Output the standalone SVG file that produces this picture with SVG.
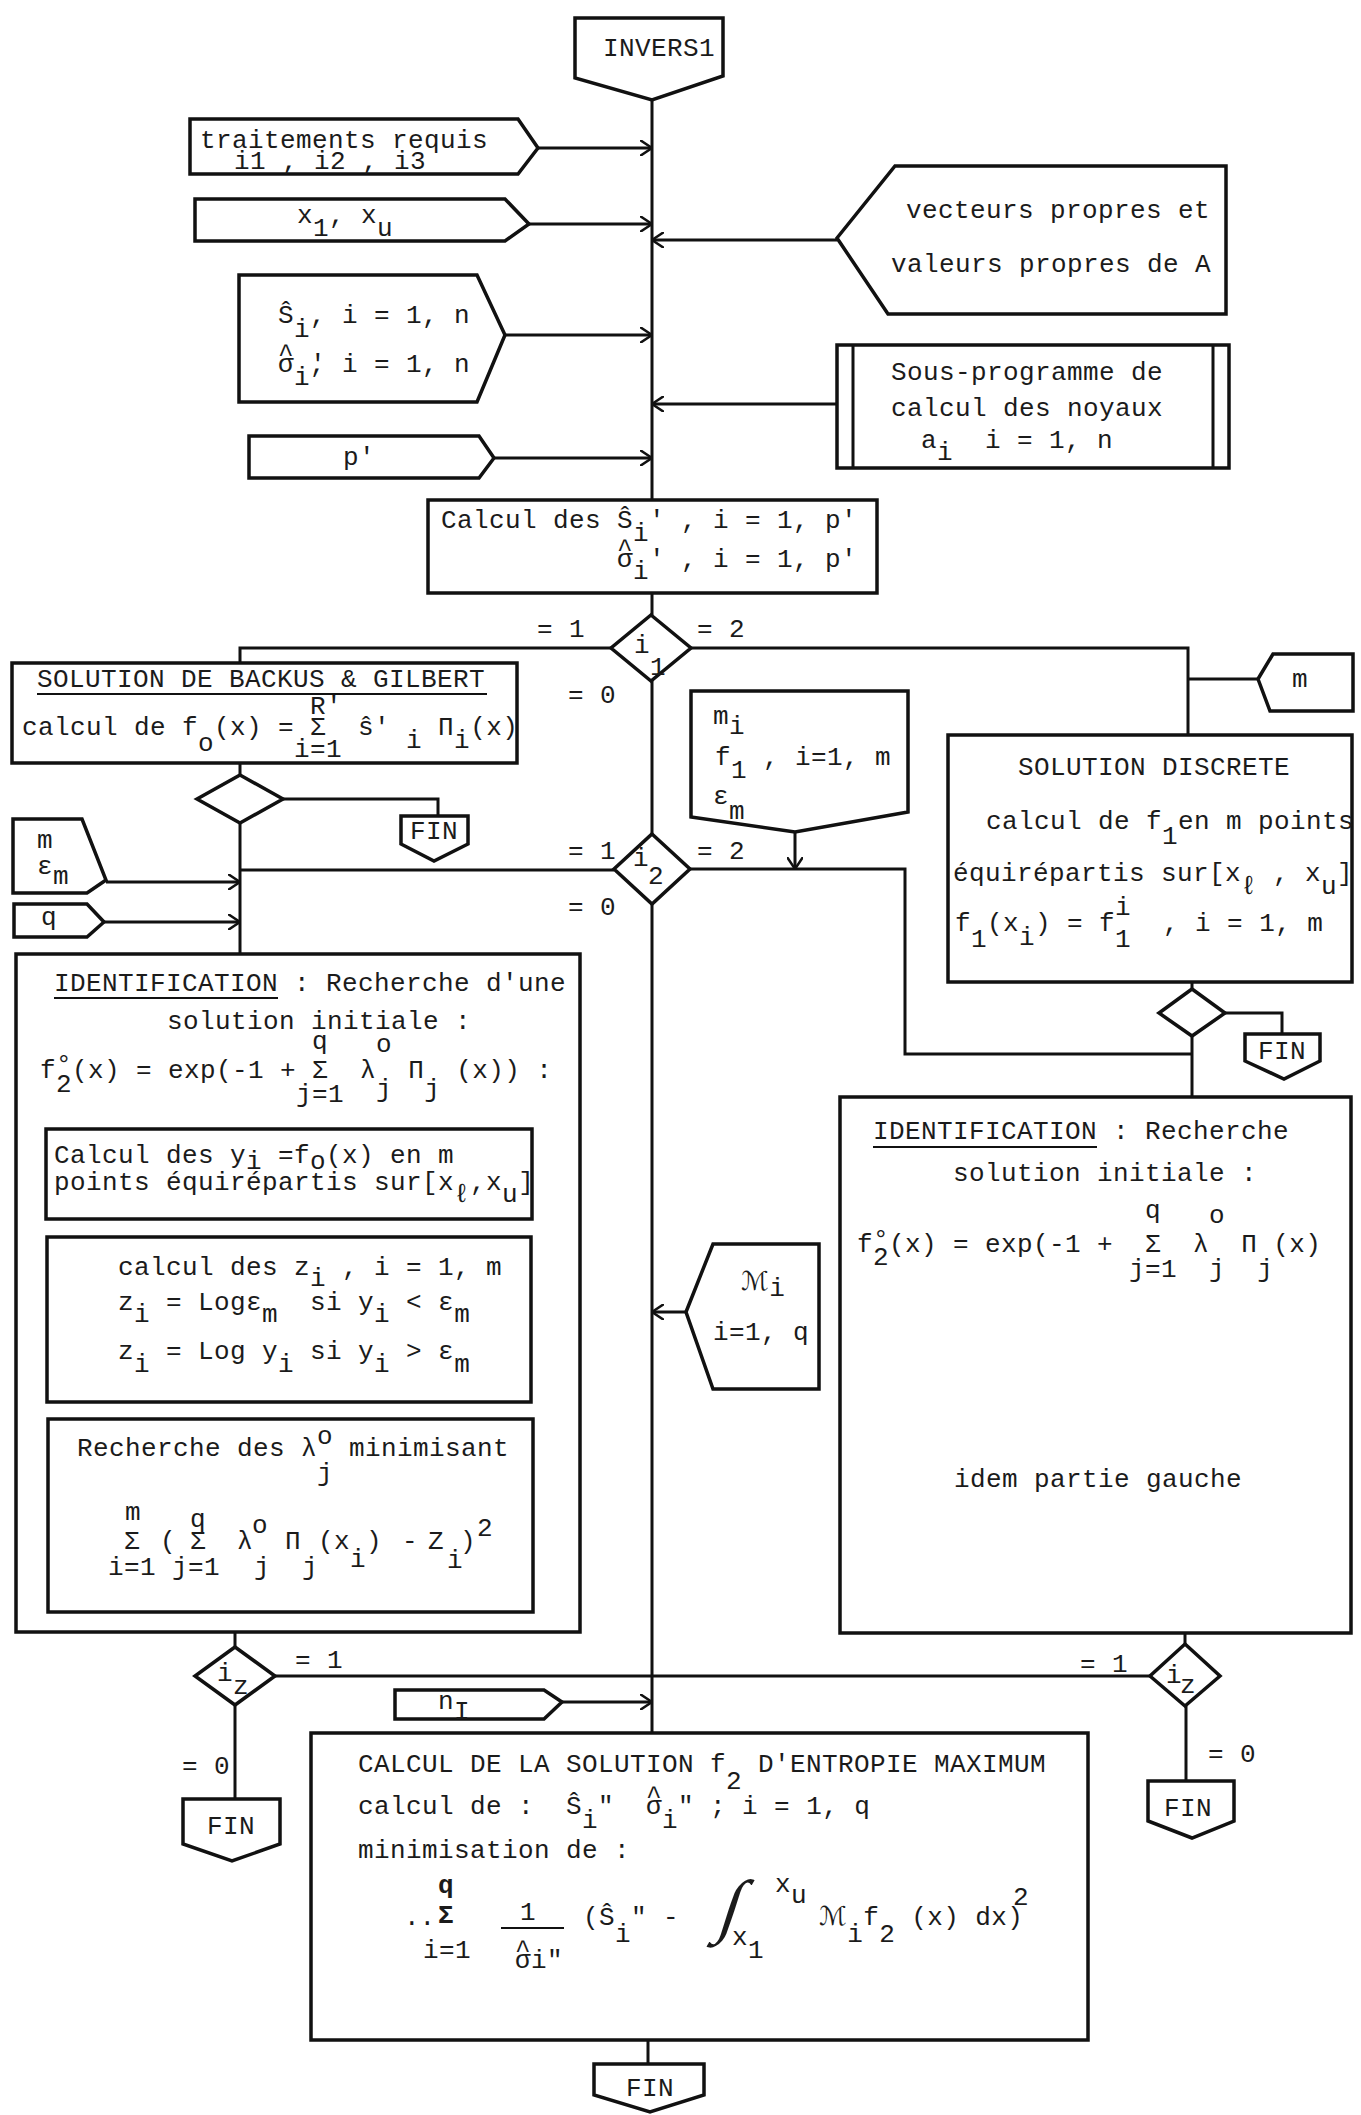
<svg xmlns="http://www.w3.org/2000/svg" width="1361" height="2115" viewBox="0 0 1361 2115" xml:space="preserve">
<style>
.b{fill:#fff;stroke:#111;stroke-width:3.5;stroke-linejoin:miter}
.c{fill:none;stroke:#111;stroke-width:3}
.u{fill:none;stroke:#111;stroke-width:2}
.t{font-family:"Liberation Mono","DejaVu Sans Mono","DejaVu Sans",monospace;font-size:26px;letter-spacing:0.4px;fill:#1b1b1b;white-space:pre}
.bd{font-weight:bold}
</style>
<defs>
<marker id="arr" viewBox="0 0 12 16" refX="12" refY="8" markerWidth="12" markerHeight="16" markerUnits="userSpaceOnUse" orient="auto">
<path d="M0,0 L12,8 L0,16" fill="none" stroke="#111" stroke-width="2.5"/>
</marker>
</defs>
<rect width="1361" height="2115" fill="#fff"/>

<g id="connectors">
<path class="c" d="M652,100 V500"/>
<path class="c" d="M652,593 V615"/>
<path class="c" d="M652,681 V834"/>
<path class="c" d="M652,904 V1733"/>
<path class="c" d="M538,148 H652" marker-end="url(#arr)"/>
<path class="c" d="M529,224 H652" marker-end="url(#arr)"/>
<path class="c" d="M505,335 H652" marker-end="url(#arr)"/>
<path class="c" d="M494,458 H652" marker-end="url(#arr)"/>
<path class="c" d="M837,240 H652" marker-end="url(#arr)"/>
<path class="c" d="M837,404 H652" marker-end="url(#arr)"/>
<path class="c" d="M611,648 H240 V663"/>
<path class="c" d="M691,648 H1188 V735"/>
<path class="c" d="M1258,679 H1188"/>
<path class="c" d="M240,763 V775"/>
<path class="c" d="M283,799 H438 V816"/>
<path class="c" d="M240,823 V954"/>
<path class="c" d="M614,870 H240"/>
<path class="c" d="M690,869 H905 V1054 H1192"/>
<path class="c" d="M795,832 V869" marker-end="url(#arr)"/>
<path class="c" d="M106,882 H240" marker-end="url(#arr)"/>
<path class="c" d="M104,922 H240" marker-end="url(#arr)"/>
<path class="c" d="M1192,982 V988"/>
<path class="c" d="M1225,1013 H1282 V1034"/>
<path class="c" d="M1192,1036 V1097"/>
<path class="c" d="M686,1312 H652" marker-end="url(#arr)"/>
<path class="c" d="M235,1632 V1647"/>
<path class="c" d="M275,1676 H1150"/>
<path class="c" d="M235,1705 V1799"/>
<path class="c" d="M1185,1633 V1644"/>
<path class="c" d="M1186,1706 V1781"/>
<path class="c" d="M562,1702 H652" marker-end="url(#arr)"/>
<path class="c" d="M648,2040 V2064"/>
</g>

<g id="invers1">
<polygon class="b" points="575,18 723,18 723,76 652,100 575,78"/>
<text class="t" x="603" y="56">INVERS1</text>
</g>

<g id="in-traitements">
<polygon class="b" points="190,119 518,119 538,148 518,174 190,174"/>
<text class="t" x="200" y="148">traitements requis</text>
<text class="t" x="234" y="169">i1 , i2 , i3</text>
</g>

<g id="in-x">
<polygon class="b" points="195,199 505,199 529,224 505,241 195,241"/>
<text class="t" x="297" y="223">x<tspan dy="13">1</tspan><tspan dy="-13">, x</tspan><tspan dy="13">u</tspan></text>
</g>

<g id="in-s">
<polygon class="b" points="239,275 477,275 505,335 477,402 239,402"/>
<text class="t" x="278" y="323">Ŝ<tspan dy="14">i</tspan><tspan dy="-14">, i = 1, n</tspan></text>
<text class="t" x="278" y="372">σ<tspan dx="-16" dy="-10">^</tspan><tspan dy="23">i</tspan><tspan dy="-13">'</tspan><tspan dx="-16">, i = 1, n</tspan></text>
</g>

<g id="in-p">
<polygon class="b" points="249,436 479,436 494,458 479,478 249,478"/>
<text class="t" x="343" y="465">p'</text>
</g>

<g id="in-vecteurs">
<polygon class="b" points="837,238 895,166 1226,166 1226,314 888,314"/>
<text class="t" x="906" y="218">vecteurs propres et</text>
<text class="t" x="891" y="272">valeurs propres de A</text>
</g>

<g id="sous-programme">
<rect class="b" x="837" y="345" width="392" height="123"/>
<path class="c" d="M853,345 V468 M1213,345 V468"/>
<text class="t" x="891" y="380">Sous-programme de</text>
<text class="t" x="891" y="416">calcul des noyaux</text>
<text class="t" x="921" y="448">a<tspan dy="12">i</tspan><tspan dy="-12">  i = 1, n</tspan></text>
</g>

<g id="calcul-s">
<rect class="b" x="428" y="500" width="449" height="93"/>
<text class="t" x="441" y="528">Calcul des Ŝ<tspan dy="13">i</tspan><tspan dy="-13">' , i = 1, p'</tspan></text>
<text class="t" x="617" y="567">σ<tspan dx="-16" dy="-10">^</tspan><tspan dy="22">i</tspan><tspan dy="-12">' , i = 1, p'</tspan></text>
</g>

<g id="dec-i1">
<polygon class="b" points="651,615 691,648 651,681 611,648"/>
<text class="t" x="634" y="653">i</text>
<text class="t" x="650" y="675">1</text>
<text class="t" x="537" y="637">= 1</text>
<text class="t" x="697" y="637">= 2</text>
<text class="t" x="568" y="703">= 0</text>
</g>

<g id="backus">
<rect class="b" x="12" y="663" width="505" height="100"/>
<text class="t" x="37" y="687">SOLUTION DE BACKUS &amp; GILBERT</text>
<path class="u" d="M37,694 H487"/>
<text class="t" x="22" y="735">calcul de f<tspan dy="16">o</tspan><tspan dy="-16">(x) = Σ  ŝ' </tspan><tspan dy="13">i</tspan><tspan dy="-13"> Π</tspan><tspan dy="13">i</tspan><tspan dy="-13">(x)</tspan></text>
<text class="t" x="310" y="714">R'</text>
<text class="t" x="294" y="757">i=1</text>
</g>

<g id="dec-backus">
<polygon class="b" points="240,775 283,799 240,823 197,799"/>
</g>

<g id="fin-1">
<polygon class="b" points="401,816 468,816 468,844 434,861 401,844"/>
<text class="t" x="410" y="839">FIN</text>
</g>

<g id="in-mi">
<polygon class="b" points="691,691 908,691 908,812 795,832 691,817"/>
<text class="t" x="713" y="724">m<tspan dy="10">i</tspan></text>
<text class="t" x="715" y="765">f<tspan dy="13">1</tspan><tspan dy="-13"> , i=1, m</tspan></text>
<text class="t" x="713" y="804">ε<tspan dy="15">m</tspan></text>
</g>

<g id="in-m-right">
<polygon class="b" points="1258,679 1273,654 1353,654 1353,711 1270,711"/>
<text class="t" x="1292" y="687">m</text>
</g>

<g id="dec-i2">
<polygon class="b" points="652,834 690,869 652,904 614,869"/>
<text class="t" x="633" y="866">i</text>
<text class="t" x="648" y="884">2</text>
<text class="t" x="568" y="859">= 1</text>
<text class="t" x="697" y="859">= 2</text>
<text class="t" x="568" y="915">= 0</text>
</g>

<g id="in-m-eps">
<polygon class="b" points="13,819 82,819 106,880 87,893 13,893"/>
<text class="t" x="37" y="848">m</text>
<text class="t" x="37" y="874">ε<tspan dy="10">m</tspan></text>
</g>

<g id="in-q">
<polygon class="b" points="14,904 87,904 104,922 87,937 14,937"/>
<text class="t" x="41" y="925">q</text>
</g>

<g id="solution-discrete">
<rect class="b" x="948" y="735" width="404" height="247"/>
<text class="t" x="1018" y="775">SOLUTION DISCRETE</text>
<text class="t" x="986" y="829">calcul de f<tspan dy="15">1</tspan><tspan dy="-15">en m points</tspan></text>
<text class="t" x="953" y="881">équirépartis sur[x<tspan dy="13">ℓ</tspan><tspan dy="-13"> , x</tspan><tspan dy="13">u</tspan><tspan dy="-13">]</tspan></text>
<text class="t" x="955" y="931">f<tspan dy="16">1</tspan><tspan dy="-16">(x</tspan><tspan dy="14">i</tspan><tspan dy="-14">) = f</tspan><tspan dy="16">1</tspan><tspan dx="-16" dy="-32">i</tspan><tspan dy="16">  , i = 1, m</tspan></text>
</g>

<g id="dec-discrete">
<polygon class="b" points="1192,989 1225,1013 1192,1036 1159,1013"/>
</g>

<g id="fin-2">
<polygon class="b" points="1245,1034 1320,1034 1320,1061 1284,1079 1245,1061"/>
<text class="t" x="1258" y="1059">FIN</text>
</g>

<g id="identification-left">
<rect class="b" x="16" y="954" width="564" height="678"/>
<text class="t" x="54" y="991">IDENTIFICATION : Recherche d'une</text>
<path class="u" d="M54,998 H278"/>
<text class="t" x="167" y="1029">solution initiale :</text>
<text class="t" x="40" y="1078">f<tspan dy="14">2</tspan><tspan dx="-16" dy="-20">°</tspan><tspan dy="6">(x) = exp(-1 + Σ  λ</tspan><tspan dy="19">j</tspan><tspan dy="-19"> Π</tspan><tspan dy="19">j</tspan><tspan dy="-19"> (x)) :</tspan></text>
<text class="t" x="312" y="1049">q</text>
<text class="t" x="376" y="1052">o</text>
<text class="t" x="296" y="1102">j=1</text>
</g>

<g id="calcul-y">
<rect class="b" x="46" y="1129" width="486" height="90"/>
<text class="t" x="54" y="1163">Calcul des y<tspan dy="6">i</tspan><tspan dy="-6"> =f</tspan><tspan dy="6">o</tspan><tspan dy="-6">(x) en m</tspan></text>
<text class="t" x="54" y="1190">points équirépartis sur[x<tspan dy="12">ℓ</tspan><tspan dy="-12">,x</tspan><tspan dy="12">u</tspan><tspan dy="-12">]</tspan></text>
</g>

<g id="calcul-z">
<rect class="b" x="47" y="1237" width="484" height="165"/>
<text class="t" x="118" y="1275">calcul des z<tspan dy="11">i</tspan><tspan dy="-11"> , i = 1, m</tspan></text>
<text class="t" x="118" y="1310">z<tspan dy="12">i</tspan><tspan dy="-12"> = Logε</tspan><tspan dy="12">m</tspan><tspan dy="-12">  si y</tspan><tspan dy="12">i</tspan><tspan dy="-12"> &lt; ε</tspan><tspan dy="12">m</tspan></text>
<text class="t" x="118" y="1359">z<tspan dy="13">i</tspan><tspan dy="-13"> = Log y</tspan><tspan dy="13">i</tspan><tspan dy="-13"> si y</tspan><tspan dy="13">i</tspan><tspan dy="-13"> &gt; ε</tspan><tspan dy="13">m</tspan></text>
</g>

<g id="recherche-lambda">
<rect class="b" x="48" y="1419" width="485" height="193"/>
<text class="t" x="77" y="1456">Recherche des λ<tspan dy="-12">o</tspan><tspan dx="-16" dy="37">j</tspan><tspan dy="-25"> minimisant</tspan></text>
<text class="t" x="125" y="1520">m</text>
<text class="t" x="124" y="1549">Σ</text>
<text class="t" x="108" y="1575">i=1</text>
<text class="t" x="160" y="1549">(</text>
<text class="t" x="190" y="1527">q</text>
<text class="t" x="190" y="1549">Σ</text>
<text class="t" x="172" y="1575">j=1</text>
<text class="t" x="237" y="1549">λ</text>
<text class="t" x="252" y="1533">o</text>
<text class="t" x="254" y="1575">j</text>
<text class="t" x="285" y="1549">Π</text>
<text class="t" x="302" y="1575">j</text>
<text class="t" x="318" y="1549">(x</text>
<text class="t" x="350" y="1567">i</text>
<text class="t" x="366" y="1549">)</text>
<text class="t" x="402" y="1549">-</text>
<text class="t" x="428" y="1549">Z</text>
<text class="t" x="447" y="1568">i</text>
<text class="t" x="460" y="1549">)</text>
<text class="t" x="477" y="1536">2</text>
</g>

<g id="in-Mi">
<polygon class="b" points="686,1312 713,1244 819,1244 819,1389 713,1389"/>
<text class="t" x="741" y="1290">ℳ<tspan dy="6">i</tspan></text>
<text class="t" x="713" y="1340">i=1, q</text>
</g>

<g id="identification-right">
<rect class="b" x="840" y="1097" width="511" height="536"/>
<text class="t" x="873" y="1139">IDENTIFICATION : Recherche</text>
<path class="u" d="M873,1147 H1097"/>
<text class="t" x="953" y="1181">solution initiale :</text>
<text class="t" x="857" y="1252">f<tspan dy="13">2</tspan><tspan dx="-16" dy="-18">°</tspan><tspan dy="5">(x) = exp(-1 +  Σ  λ</tspan><tspan dy="25">j</tspan><tspan dy="-25"> Π</tspan><tspan dy="25">j</tspan><tspan dy="-25">(x)</tspan></text>
<text class="t" x="1145" y="1218">q</text>
<text class="t" x="1209" y="1223">o</text>
<text class="t" x="1129" y="1277">j=1</text>
<text class="t" x="954" y="1487">idem partie gauche</text>
</g>

<g id="dec-iz-left">
<polygon class="b" points="235,1647 275,1676 235,1705 195,1676"/>
<text class="t" x="217" y="1681">i<tspan dy="13">z</tspan></text>
<text class="t" x="295" y="1668">= 1</text>
<text class="t" x="182" y="1774">= 0</text>
</g>

<g id="fin-3">
<polygon class="b" points="183,1799 280,1799 280,1844 232,1861 183,1844"/>
<text class="t" x="207" y="1834">FIN</text>
</g>

<g id="dec-iz-right">
<polygon class="b" points="1185,1644 1220,1676 1185,1706 1150,1676"/>
<text class="t" x="1166" y="1683">i<tspan dx="-2" dy="10">z</tspan></text>
<text class="t" x="1080" y="1672">= 1</text>
<text class="t" x="1208" y="1762">= 0</text>
</g>

<g id="fin-4">
<polygon class="b" points="1148,1781 1234,1781 1234,1821 1192,1838 1148,1821"/>
<text class="t" x="1164" y="1816">FIN</text>
</g>

<g id="in-nI">
<polygon class="b" points="395,1690 544,1690 562,1702 544,1719 395,1719"/>
<text class="t" x="438" y="1709">n<tspan dy="10">I</tspan></text>
</g>

<g id="calcul-solution">
<rect class="b" x="311" y="1733" width="777" height="307"/>
<text class="t" x="358" y="1772">CALCUL DE LA SOLUTION f<tspan dy="17">2</tspan><tspan dy="-17"> D'ENTROPIE MAXIMUM</tspan></text>
<text class="t" x="358" y="1814">calcul de :  Ŝ<tspan dy="14">i</tspan><tspan dy="-14">"  σ</tspan><tspan dx="-16" dy="-10">^</tspan><tspan dy="24">i</tspan><tspan dy="-14">" ; i = 1, q</tspan></text>
<text class="t" x="358" y="1858">minimisation de :</text>
<text class="t" x="404" y="1925" style="letter-spacing:0">..</text>
<text class="t bd" x="438" y="1893">q</text>
<text class="t bd" x="438" y="1923">Σ</text>
<text class="t" x="423" y="1958">i=1</text>
<text class="t" x="520" y="1920">1</text>
<path class="u" d="M501,1928 H564"/>
<text class="t" x="515" y="1968">σ<tspan dx="-16" dy="-10">^</tspan><tspan dy="10">i"</tspan></text>
<text class="t" x="583" y="1925">(Ŝ<tspan dy="17">i</tspan><tspan dy="-17">" -</tspan></text>
<text x="0" y="0" transform="translate(716,1929) skewX(-18)" style="font-family:'Liberation Serif',serif;font-size:70px;fill:#1b1b1b">∫</text>
<text class="t" x="775" y="1892">x<tspan dy="11">u</tspan></text>
<text class="t" x="732" y="1945">x<tspan dy="13">1</tspan></text>
<text class="t" x="819" y="1925">ℳ<tspan dy="17">i</tspan><tspan dy="-17">f</tspan><tspan dy="17">2</tspan><tspan dy="-17"> (x) dx)</tspan></text>
<text class="t" x="1013" y="1905">2</text>
</g>

<g id="fin-5">
<polygon class="b" points="594,2064 704,2064 704,2095 650,2112 594,2095"/>
<text class="t" x="626" y="2096">FIN</text>
</g>
</svg>
